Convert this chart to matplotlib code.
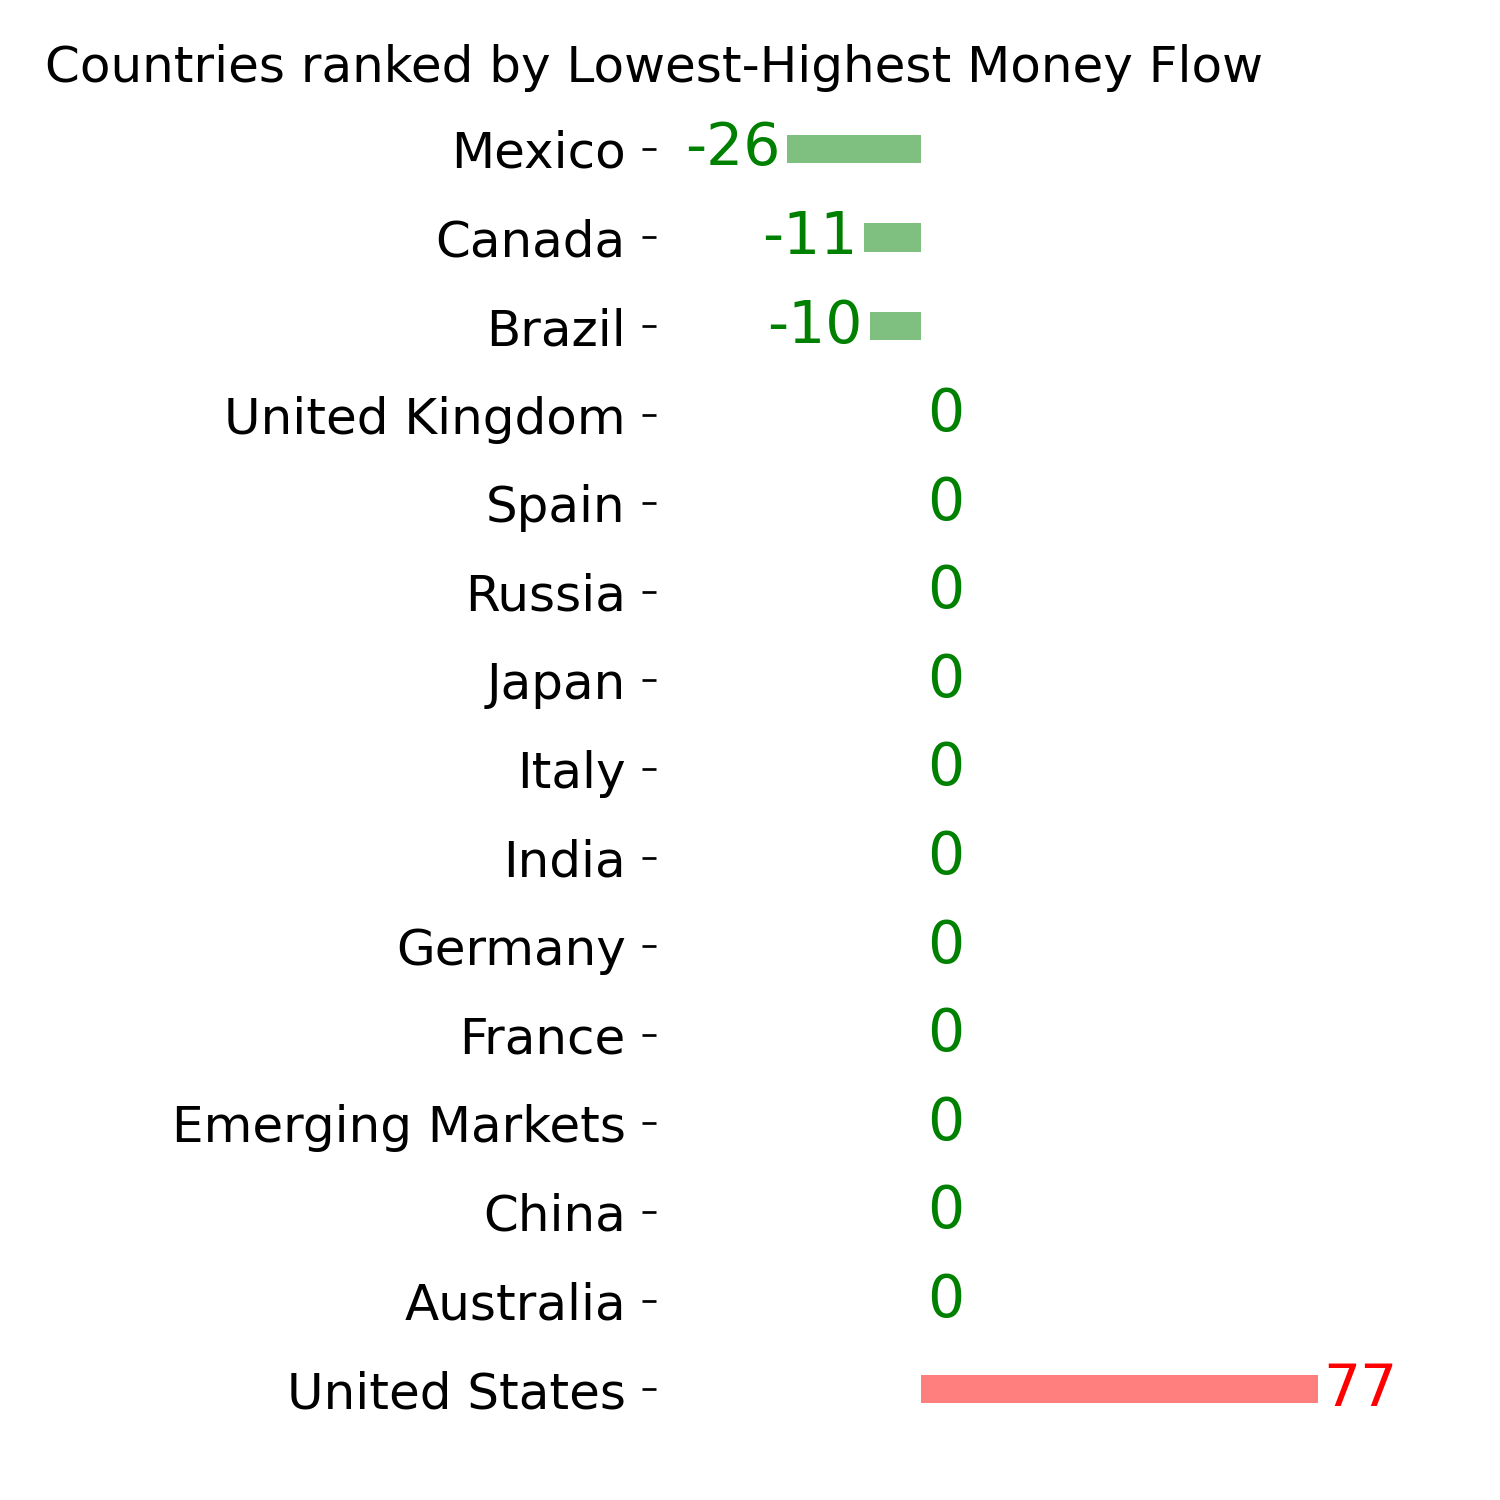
import matplotlib
matplotlib.use("Agg")
import matplotlib.pyplot as plt
import numpy as np

countries = ["Mexico", "Canada", "Brazil", "United Kingdom", "Spain", "Russia",
             "Japan", "Italy", "India", "Germany", "France", "Emerging Markets",
             "China", "Australia", "United States"]
values = [-26, -11, -10, 0, 0, 0, 0, 0, 0, 0, 0, 0, 0, 0, 77]
title = "Countries ranked by Lowest-Highest Money Flow"

plt.rcParams['font.family'] = ['DejaVu Sans']

fig = plt.figure(figsize=(10, 10), dpi=150)
ax = fig.add_axes([656/1500, 1 - 1460/1500, (1400-656)/1500, (1460-78)/1500])

y = np.arange(len(countries))
bar_colors = ['green' if v <= 0 else 'red' for v in values]
ax.barh(y, values, height=0.32, color=bar_colors, alpha=0.5)

for yi, v, c in zip(y, values, bar_colors):
    if v < 0:
        ax.text(v - 1.3, yi, str(v), ha='right', va='center', color=c, fontsize=28)
    else:
        ax.text(v + 1.2, yi, str(v), ha='left', va='center', color=c, fontsize=28)

ax.set_yticks(y)
ax.set_yticklabels(countries, fontsize=24)
ax.set_xticks([])
ax.set_xlim((656-921)/5.15, (1400-921)/5.15)
ax.set_ylim(len(countries) - 1 + 0.8, -0.8)
ax.tick_params(axis='y', length=6.5, width=1.3, pad=8)
for s in ax.spines.values():
    s.set_visible(False)

fig.text(45/1500, 1 - 68/1500, title, fontsize=24, ha='left', va='center')

fig.savefig("out.png", dpi=150)
